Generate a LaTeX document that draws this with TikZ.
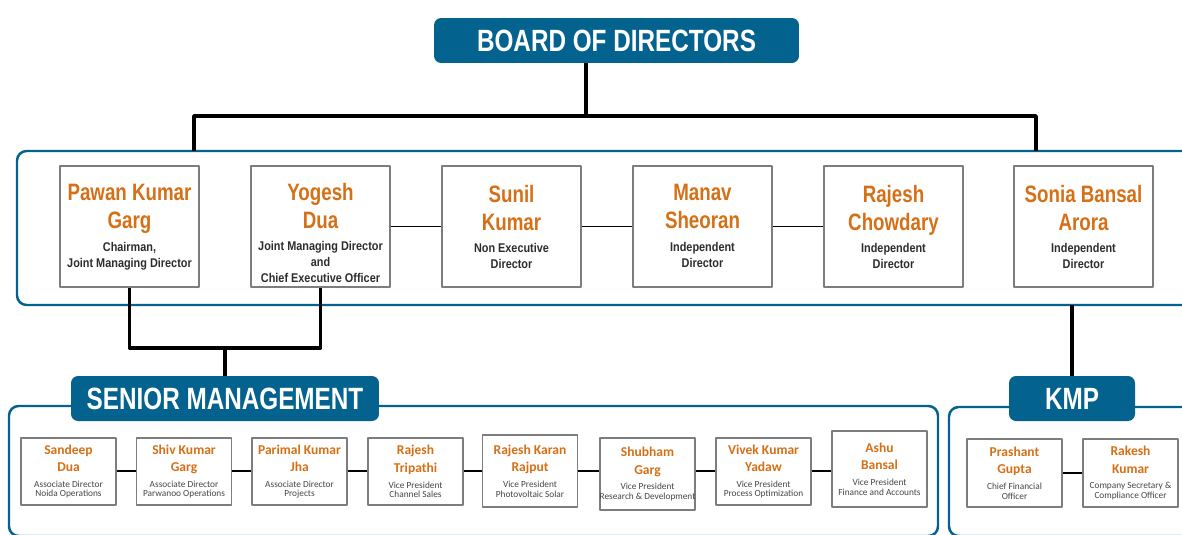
\documentclass[tikz,border=0pt]{standalone}
\usepackage{fontspec}
\setmainfont{Liberation Sans}
\newfontfamily\condfont[FakeStretch=0.79]{Liberation Sans}
\newfontfamily\rolefont[FakeStretch=0.86]{Liberation Sans}
\newfontfamily\calfont{Carlito}
\usepackage{xcolor}
\usepackage{tikz}
\usetikzlibrary{positioning}

\definecolor{boardblue}{RGB}{3,99,142}
\definecolor{nameorange}{RGB}{214,112,22}
\definecolor{boxgray}{RGB}{125,125,125}
\definecolor{roletext}{RGB}{45,45,45}
\definecolor{mgrtext}{RGB}{70,70,70}

\newcommand{\dirname}[1]{{\centering\condfont\bfseries\color{nameorange}\fontsize{13.5}{15.9}\selectfont
  \spaceskip=0pt \xspaceskip=0pt #1\par}}
\newcommand{\dirrole}[1]{{\vspace{4pt}\centering\rolefont\bfseries\color{roletext}\fontsize{7.2}{8.9}\selectfont
  \spaceskip=0pt \xspaceskip=0pt #1\par}}
\newcommand{\mgrname}[1]{{\centering\calfont\bfseries\color{nameorange}\fontsize{7.7}{9.9}\selectfont
  \spaceskip=0pt \xspaceskip=0pt #1\par}}
\newcommand{\mgrrole}[1]{{\vspace{3.6pt}\centering\calfont\color{mgrtext}\fontsize{5.3}{5.4}\selectfont
  \spaceskip=0pt \xspaceskip=0pt #1\par}}

\begin{document}
\begin{tikzpicture}[x=0.02cm, y=-0.02cm, line join=round,
    grouptitle/.style={fill=boardblue, rounded corners=4pt, text=white,
      font=\condfont\bfseries\fontsize{17.5}{20}\selectfont, inner sep=0pt},
    groupframe/.style={draw=boardblue, line width=1.4pt, rounded corners=5.5pt},
    dirbox/.style={draw=boxgray, line width=0.85pt, fill=white,
      minimum width=2.78cm, minimum height=2.42cm},
    dirtext/.style={align=center, text width=2.7cm, inner sep=0pt},
    mgrbox/.style={draw=boxgray, line width=0.85pt, fill=white, align=center,
      text width=2.0cm, inner xsep=-0.05cm, minimum height=1.34cm},
    tree/.style={black, line width=2pt},
    link/.style={black, line width=1.1pt}]

  \useasboundingbox (0,0) rectangle (1182,534);
  \clip (0,0) rectangle (1182,534);

  %--- Group frames ----------------------------------------------------------
  \draw[groupframe] (17,151) rectangle (1210,305);   % board
  \draw[groupframe] (9,406)  rectangle (938,536);    % senior management
  \draw[groupframe] (949,407) rectangle (1210,536);  % KMP

  %--- Group titles ----------------------------------------------------------
  \node[grouptitle, minimum width=7.3cm, minimum height=0.9cm]
        (board) at (616.5,40.5) {BOARD OF DIRECTORS};
  \node[grouptitle, minimum width=6.16cm, minimum height=0.9cm]
        (senior) at (225,398.5) {SENIOR MANAGEMENT};
  \node[grouptitle, minimum width=2.52cm, minimum height=0.9cm]
        (kmp) at (1072,398.5) {KMP};

  %--- Board of directors ----------------------------------------------------
  \node[dirbox] (pawan)  at (129.5,226.5)  {};
  \node[dirbox] (yogesh) at (320.5,226.5)  {};
  \node[dirbox] (sunil)  at (511.5,226.5)  {};
  \node[dirbox] (manav)  at (702.5,226.5)  {};
  \node[dirbox] (rajesh) at (893.5,226.5)  {};
  \node[dirbox] (sonia)  at (1083.5,226.5) {};

  \node[dirtext, below=0.38cm of pawan.north] (pawan-txt)
        {\dirname{Pawan Kumar\\Garg}\dirrole{Chairman,\\Joint Managing Director}};
  \node[dirtext, below=0.35cm of yogesh.north] (yogesh-txt)
        {\dirname{Yogesh\\Dua}\dirrole{Joint Managing Director\\and\\Chief Executive Officer}};
  \node[dirtext, below=0.39cm of sunil.north] (sunil-txt)
        {\dirname{Sunil\\Kumar}\dirrole{Non Executive\\Director}};
  \node[dirtext, below=0.38cm of manav.north] (manav-txt)
        {\dirname{Manav\\Sheoran}\dirrole{Independent\\Director}};
  \node[dirtext, below=0.39cm of rajesh.north] (rajesh-txt)
        {\dirname{Rajesh\\Chowdary}\dirrole{Independent\\Director}};
  \node[dirtext, below=0.39cm of sonia.north] (sonia-txt)
        {\dirname{Sonia Bansal\\Arora}\dirrole{Independent\\Director}};

  \draw[link] (yogesh) -- (sunil);
  \draw[link] (sunil)  -- (manav);
  \draw[link] (manav)  -- (rajesh);

  %--- Senior management -----------------------------------------------------
  \foreach \i/\xx/\yy/\bh/\nma/\nmb/\rla/\rlb in {
      1/68.5/471.5/1.34/Sandeep/Dua/Associate Director/Noida Operations,
      2/184/471.5/1.34/Shiv Kumar/Garg/Associate Director/Parwanoo Operations,
      3/299.5/471.5/1.34/Parimal Kumar/Jha/Associate Director/Projects,
      4/415.5/471.5/1.34/Rajesh/Tripathi/Vice President/Channel Sales,
      5/530/471/1.44/Rajesh Karan/Rajput/Vice President/Photovoltaic Solar,
      6/647.5/474/1.44/Shubham/Garg/Vice President/Research \& Development,
      7/763.5/471.5/1.34/Vivek Kumar/Yadaw/Vice President/Process Optimization,
      8/879.5/469/1.52/Ashu/Bansal/Vice President/Finance and Accounts}
    \node[mgrbox, minimum height=\bh cm] (mgr\i) at (\xx,\yy)
          {\mgrname{\nma\\\nmb}\mgrrole{\rla\\\rlb}};

  \foreach \a/\b in {1/2,2/3,3/4,4/5,5/6,6/7,7/8}
    \draw[link] (mgr\a.east |- 0,471) -- (mgr\b.west |- 0,471);

  %--- Key managerial personnel ----------------------------------------------
  \node[mgrbox, minimum height=1.36cm] (prashant) at (1014.5,473)
        {\mgrname{Prashant\\Gupta}\mgrrole{Chief Financial\\Officer}};
  \node[mgrbox, minimum height=1.36cm] (rakesh)   at (1130.5,473)
        {\mgrname{Rakesh\\Kumar}\mgrrole{Company Secretary \&\\Compliance Officer}};
  \draw[link] (prashant) -- (rakesh);

  %--- Reporting lines -------------------------------------------------------
  \coordinate (split)  at (586,116);
  \coordinate (dirL)   at (194,151);
  \coordinate (dirR)   at (1036,151);
  \coordinate (smjoin) at (225,348);
  \coordinate (kmptop) at (1072,305);

  \draw[tree] (board.south -| split) -- (split);
  \draw[tree] (dirL) |- (split) -| (dirR);
  \draw[tree] (pawan.south) |- (smjoin) -| (yogesh.south);
  \draw[tree] (smjoin) -- (senior.north);
  \draw[tree] (kmptop) -- (kmp.north);

\end{tikzpicture}
\end{document}
